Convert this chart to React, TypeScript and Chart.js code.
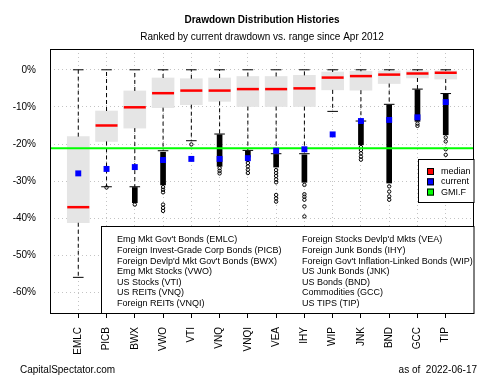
import React, { useEffect, useRef } from 'react';
import { Chart, registerables } from 'chart.js';

Chart.register(...registerables);

// ---------- data ----------
const tickers = ['EMLC', 'PICB', 'BWX', 'VWO', 'VTI', 'VNQ', 'VNQI', 'VEA', 'IHY', 'WIP', 'JNK', 'BND', 'GCC', 'TIP'];
const descriptionsLeft = [
  "Emg Mkt Gov't Bonds (EMLC)",
  'Foreign Invest-Grade Corp Bonds (PICB)',
  "Foreign Devlp'd Mkt Gov't Bonds (BWX)",
  'Emg Mkt Stocks (VWO)',
  'US Stocks (VTI)',
  'US REITs (VNQ)',
  'Foreign REITs (VNQI)',
];
const descriptionsRight = [
  "Foreign Stocks Devlp'd Mkts (VEA)",
  'Foreign Junk Bonds (IHY)',
  "Foreign Gov't Inflation-Linked Bonds (WIP)",
  'US Junk Bonds (JNK)',
  'US Bonds (BND)',
  'Commodities (GCC)',
  'US TIPS (TIP)',
];
const upperWhisker = [0, 0, 0, 0, 0, 0, 0, 0, 0, 0, 0, 0, 0, 0];
const q3 = [-18.0, -11.1, -5.7, -2.2, -2.4, -2.2, -1.8, -1.8, -1.5, -0.6, -0.4, -0.3, -0.3, -0.3];
const medians = [-37.0, -15.0, -10.1, -6.3, -5.6, -5.6, -5.2, -5.2, -5.0, -2.1, -1.7, -1.3, -1.0, -0.8];
const q1 = [-41.2, -19.3, -15.7, -10.2, -9.4, -8.5, -9.9, -9.9, -9.9, -5.4, -5.5, -3.7, -2.2, -2.5];
const lowerWhisker = [-55.9, -31.5, -31.5, -21.8, -19.1, -17.3, -21.7, -22.6, -22.6, -11.2, -13.8, -9.3, -5.2, -6.4];
const currentDrawdown = [-27.9, -26.7, -26.2, -24.3, -24.0, -24.0, -23.8, -21.8, -21.4, -17.4, -13.8, -13.5, -12.8, -8.7];
const outlierRunStart: (number | null)[] = [null, null, -31.7, -22.2, null, -17.5, -21.9, -22.8, -22.9, null, -13.9, -9.5, -5.4, -6.6];
const outlierRunEnd: (number | null)[] = [null, null, -35.8, -31.0, null, -26.0, -23.5, -26.2, -30.3, null, -20.2, -30.5, -13.9, -17.5];
const outlierPoints: number[][] = [
  [],
  [-31.7],
  [-36.3],
  [-31.6, -32.3, -33.0, -36.3, -37.2, -38.0],
  [-20.1],
  [-26.5, -27.2, -27.9],
  [-24.3, -25.1, -26.0, -26.9, -27.8],
  [-27.0, -27.8, -28.6, -29.5, -30.3, -33.7, -34.6, -35.5],
  [-31.0, -33.5, -34.2, -35.0, -36.8, -39.5],
  [],
  [-20.8, -21.6, -22.5, -23.4, -24.2],
  [-31.4, -32.8, -34.1, -35.0],
  [-14.5, -15.1],
  [-18.2, -19.3, -21.4, -22.9],
];
const gmiF = -21.1;
const yTicks = [-60, -50, -40, -30, -20, -10, 0];
const legendLabels = ['median', 'current', 'GMI.F'];
const titleText = 'Drawdown Distribution Histories';
const subtitleText = 'Ranked by current drawdown vs. range since Apr 2012';
const footerLeft = 'CapitalSpectator.com';
const footerRight = 'as of  2022-06-17';

// ---------- styles ----------
const FONT = '"Liberation Sans", Arial, Helvetica, sans-serif';
const BOX_COLOR = '#e5e5e5';
const MEDIAN_COLOR = '#ff0000';
const CURRENT_COLOR = '#0000ff';
const GMI_COLOR = '#00ff00';
const GRID_COLOR = '#c4c4c4';

const decorPlugin = {
  id: 'decor',
  afterDraw(chart: any) {
    const { ctx, chartArea: ca } = chart;
    ctx.save();
    // plot frame
    ctx.strokeStyle = '#000';
    ctx.lineWidth = 1;
    ctx.strokeRect(ca.left + 0.5, ca.top + 0.5, ca.right - ca.left - 1, ca.bottom - ca.top);

    const cx = (ca.left + ca.right) / 2;
    ctx.fillStyle = '#000';
    ctx.textBaseline = 'middle';
    ctx.textAlign = 'center';
    ctx.font = `bold 10px ${FONT}`;
    ctx.fillText(titleText, cx, 20);
    ctx.font = `10px ${FONT}`;
    ctx.fillText(subtitleText, cx, 37);

    // footers
    ctx.textAlign = 'left';
    ctx.fillText(footerLeft, 20, 370);
    ctx.textAlign = 'right';
    ctx.fillText(footerRight, 477, 370);

    // legend box (median/current/GMI.F)
    const lx = 418.5, ly = 159.5, lw = ca.right - 418.5, lh = 43;
    ctx.fillStyle = '#fff';
    ctx.fillRect(lx, ly, lw, lh);
    ctx.strokeStyle = '#000';
    ctx.strokeRect(lx, ly, lw, lh);
    const colors = [MEDIAN_COLOR, CURRENT_COLOR, GMI_COLOR];
    ctx.font = `9px ${FONT}`;
    ctx.textAlign = 'left';
    legendLabels.forEach((lab, i) => {
      const yy = 171.5 + i * 10.3;
      ctx.fillStyle = colors[i];
      ctx.fillRect(427, yy - 3.5, 7, 7);
      ctx.strokeStyle = '#000';
      ctx.strokeRect(427.5, yy - 3, 6, 6);
      ctx.fillStyle = '#000';
      ctx.fillText(lab, 441, yy);
    });

    // description box
    const dx = 101.5, dy = 226.5;
    ctx.fillStyle = '#fff';
    ctx.fillRect(dx, dy, ca.right - dx, ca.bottom - dy);
    ctx.strokeStyle = '#000';
    ctx.strokeRect(dx, dy, ca.right - dx, ca.bottom - dy + 0.5);
    ctx.fillStyle = '#000';
    ctx.font = `9px ${FONT}`;
    descriptionsLeft.forEach((t, i) => ctx.fillText(t, 117, 240 + i * 10.6));
    descriptionsRight.forEach((t, i) => ctx.fillText(t, 302, 240 + i * 10.6));
    ctx.restore();
  },
};

function buildConfig(): any {
  const xs = tickers.map((_, i) => i + 1);
  const boxData = xs.map((x, i) => ({ x, y: [q1[i], q3[i]] }));
  const medianData = xs.map((x, i) => ({ x, y: medians[i] }));
  const whiskerData: any[] = [];
  xs.forEach((x, i) => {
    whiskerData.push({ x, y: q3[i] }, { x, y: upperWhisker[i] }, { x, y: null });
    whiskerData.push({ x, y: q1[i] }, { x, y: lowerWhisker[i] }, { x, y: null });
  });
  const capData: any[] = [];
  xs.forEach((x, i) => {
    capData.push({ x, y: upperWhisker[i] }, { x, y: lowerWhisker[i] });
  });
  const runData: any[] = [];
  xs.forEach((x, i) => {
    const s = outlierRunStart[i];
    const e = outlierRunEnd[i];
    if (s !== null && e !== null) runData.push({ x, y: [s, e] });
  });
  const circleData: any[] = [];
  xs.forEach((x, i) => outlierPoints[i].forEach((v) => circleData.push({ x, y: v })));
  const currentData = xs.map((x, i) => ({ x, y: currentDrawdown[i] }));

  return {
    type: 'bar',
    data: {
      datasets: [
        {
          type: 'scatter', label: 'current', data: currentData, order: 0,
          pointStyle: 'rect', pointRadius: 4.2, pointBorderWidth: 0,
          backgroundColor: CURRENT_COLOR, borderColor: CURRENT_COLOR,
        },
        {
          type: 'line', label: 'GMI.F', data: [{ x: 0, y: gmiF }, { x: 15, y: gmiF }], order: 1,
          borderColor: GMI_COLOR, borderWidth: 2, pointRadius: 0,
        },
        {
          type: 'scatter', label: 'outliers', data: circleData, order: 2,
          pointStyle: 'circle', pointRadius: 1.7, pointBorderWidth: 1,
          backgroundColor: 'rgba(255,255,255,0)', borderColor: '#000',
        },
        {
          type: 'bar', label: 'outlier runs', data: runData, order: 3,
          backgroundColor: '#000', barThickness: 5, grouped: false, borderWidth: 0,
        },
        {
          type: 'scatter', label: 'caps', data: capData, order: 4,
          pointStyle: 'line', pointRadius: 5.3, pointBorderWidth: 1, borderColor: '#000',
        },
        {
          type: 'line', label: 'whiskers', data: whiskerData, order: 5,
          borderColor: '#000', borderWidth: 1, borderDash: [4, 3], pointRadius: 0, spanGaps: false,
        },
        {
          type: 'scatter', label: 'median', data: medianData, order: 6,
          pointStyle: 'line', pointRadius: 11, pointBorderWidth: 2.5, borderColor: MEDIAN_COLOR,
        },
        {
          type: 'bar', label: 'box', data: boxData, order: 7,
          backgroundColor: BOX_COLOR, barThickness: 22, grouped: false, borderWidth: 0,
        },
      ],
    },
    options: {
      responsive: false,
      animation: false,
      devicePixelRatio: 1,
      layout: { padding: { top: 49, right: 26, left: 0, bottom: 0 } },
      plugins: { legend: { display: false }, tooltip: { enabled: false }, title: { display: false } },
      scales: {
        x: {
          type: 'linear',
          min: 0,
          max: 15,
          offset: false,
          afterBuildTicks: (s: any) => { s.ticks = tickers.map((_, i) => ({ value: i + 1 })); },
          afterFit: (s: any) => { s.height = 62; s.paddingLeft = 0; s.paddingRight = 0; },
          ticks: {
            autoSkip: false, minRotation: 90, maxRotation: 90, padding: 9,
            color: '#000', font: { family: FONT, size: 10 },
            callback: (v: any) => tickers[Math.round(v) - 1] ?? '',
          },
          grid: { offset: false, color: GRID_COLOR, lineWidth: 1, drawTicks: true, tickLength: 5, tickColor: '#000', tickWidth: 1 },
          border: { display: false, dash: [1, 3] },
        },
        y: {
          type: 'linear',
          min: -65.5,
          max: 5.6,
          afterBuildTicks: (s: any) => { s.ticks = yTicks.map((v) => ({ value: v })); },
          afterFit: (s: any) => { s.width = 50; s.paddingTop = 0; s.paddingBottom = 0; },
          ticks: {
            padding: 14, color: '#000', font: { family: FONT, size: 10 },
            callback: (v: any) => `${v}%`,
          },
          grid: { color: GRID_COLOR, lineWidth: 1, drawTicks: false },
          border: { display: false, dash: [1, 3] },
        },
      },
    },
    plugins: [decorPlugin],
  };
}

export default function App() {
  const ref = useRef<HTMLCanvasElement>(null);
  useEffect(() => {
    if (!ref.current) return;
    const chart = new Chart(ref.current, buildConfig());
    return () => chart.destroy();
  }, []);
  return (
    <div style={{ position: 'fixed', left: 0, top: 0, width: 500, height: 375, background: '#fff' }}>
      <canvas ref={ref} width={500} height={375} style={{ display: 'block', width: 500, height: 375 }} />
    </div>
  );
}
